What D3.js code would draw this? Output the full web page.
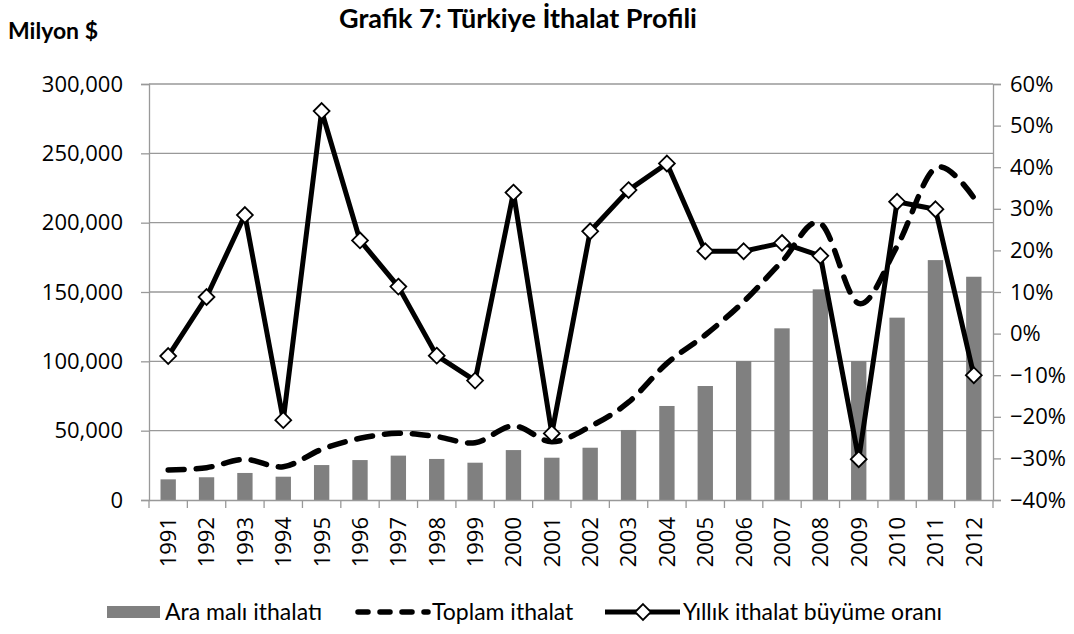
<!DOCTYPE html>
<html><head><meta charset="utf-8">
<script src="https://cdn.jsdelivr.net/npm/d3@7"></script>
<style>body{margin:0;background:#fff;}svg{display:block;}</style>
</head><body><svg id="c" width="1074" height="634"></svg>
<script>
const years = ["1991","1992","1993","1994","1995","1996","1997","1998","1999","2000","2001","2002","2003","2004","2005","2006","2007","2008","2009","2010","2011","2012"];
const araMali = [14900,16400,19500,16800,25200,28800,32000,29600,26900,36000,30500,37700,50500,67800,82200,100200,123800,151900,100200,131500,173000,161000];
const toplam = [21600,23300,29300,24000,36500,44500,48100,45700,41300,53400,42000,53000,70500,98500,119000,143000,172000,199500,141800,183000,239400,218000];
const buyume = [-0.054,0.088,0.285,-0.208,0.535,0.224,0.113,-0.053,-0.113,0.339,-0.240,0.246,0.345,0.409,0.198,0.198,0.218,0.187,-0.302,0.317,0.299,-0.100];
const leftTicks = [0,50000,100000,150000,200000,250000,300000];
const rightTicks = [-0.4,-0.3,-0.2,-0.1,0,0.1,0.2,0.3,0.4,0.5,0.6];

const svg = d3.select("#c");
const L=149,R=993,T=84,B=500;
const axisFont = "'Open Sans', 'Noto Sans', sans-serif";
const legFont = "Lato, 'Open Sans', sans-serif";
const grid = "#999999";

const x = d3.scaleBand().domain(years).range([L,R]).padding(0);
const y = d3.scaleLinear().domain([0,300000]).range([B,T]);
const y2 = d3.scaleLinear().domain([-0.4,0.6]).range([B,T]);

// gridlines
svg.append("g").selectAll("line").data(leftTicks.filter(d=>d>0)).join("line")
  .attr("x1",L).attr("x2",R).attr("y1",d=>y(d)).attr("y2",d=>y(d))
  .attr("stroke",grid).attr("stroke-width",1.3);

// bars
const bw = x.bandwidth()*0.4;
svg.append("g").selectAll("rect").data(araMali).join("rect")
  .attr("x",(d,i)=>x(years[i])+x.bandwidth()/2-bw/2)
  .attr("width",bw)
  .attr("y",d=>y(d)).attr("height",d=>B-y(d))
  .attr("fill","#808080");

// axes
function styleAxis(g){
  g.selectAll(".domain").attr("stroke",grid).attr("stroke-width",1.3);
  g.selectAll(".tick line").attr("stroke",grid).attr("stroke-width",1.3);
  g.selectAll("text").attr("fill","#000").attr("font-family",axisFont).style("font-family",axisFont).style("font-size","22px");
}
const fmt = d3.format(",");
svg.append("g").attr("transform",`translate(${L},0)`)
  .call(d3.axisLeft(y).tickValues(leftTicks).tickFormat(fmt).tickSizeOuter(0).tickSize(8).tickPadding(18))
  .call(styleAxis);
svg.append("g").attr("transform",`translate(${R},0)`)
  .call(d3.axisRight(y2).tickValues(rightTicks).tickFormat(d3.format(".0%")).tickSizeOuter(0).tickSize(8).tickPadding(9))
  .call(styleAxis);
const xa = svg.append("g").attr("transform",`translate(0,${B})`)
  .call(d3.axisBottom(x).tickSize(0).tickSizeOuter(0))
  .call(styleAxis);
xa.selectAll(".tick text").attr("transform","rotate(-90)").attr("text-anchor","end")
  .attr("x",-17).attr("y",0).attr("dy","0.36em");
// x ticks at band boundaries
const bounds = years.map(d=>x(d)).concat([R]);
svg.append("g").selectAll("line").data(bounds).join("line")
  .attr("x1",d=>d).attr("x2",d=>d).attr("y1",B).attr("y2",B+8)
  .attr("stroke",grid).attr("stroke-width",1.3);

const cx = d=>x(d)+x.bandwidth()/2;

// total imports dashed smoothed
svg.append("path").datum(toplam)
  .attr("d",d3.line().x((d,i)=>cx(years[i])).y(d=>y(d)).curve(d3.curveCatmullRom.alpha(0)))
  .attr("fill","none").attr("stroke","#000").attr("stroke-width",5.5)
  .attr("stroke-dasharray","16,12").attr("stroke-linecap","round");

// growth line
svg.append("path").datum(buyume)
  .attr("d",d3.line().x((d,i)=>cx(years[i])).y(d=>y2(d)))
  .attr("fill","none").attr("stroke","#000").attr("stroke-width",5).attr("stroke-linejoin","round");
const dia = d3.symbol().type(d3.symbolDiamond2).size(160);
svg.append("g").selectAll("path").data(buyume).join("path")
  .attr("transform",(d,i)=>`translate(${cx(years[i])},${y2(d)})`)
  .attr("d",dia).attr("fill","#fff").attr("stroke","#000").attr("stroke-width",1.8);

// titles
svg.append("text").attr("x",518).attr("y",28).attr("text-anchor","middle")
  .style("font-family",legFont).style("font-weight","bold").style("font-size","27px")
  .text("Grafik 7: Türkiye İthalat Profili");
svg.append("text").attr("x",8).attr("y",39)
  .style("font-family",legFont).style("font-weight","bold").style("font-size","23px")
  .text("Milyon $");

// legend
const lg = svg.append("g").style("font-family",legFont).style("font-size","23px");
lg.append("rect").attr("x",107).attr("y",606).attr("width",53).attr("height",12).attr("fill","#808080");
lg.append("text").attr("x",165).attr("y",620).text("Ara malı ithalatı");
lg.append("line").attr("x1",358).attr("x2",428).attr("y1",612).attr("y2",612)
  .attr("stroke","#000").attr("stroke-width",5.5).attr("stroke-dasharray","10,12").attr("stroke-linecap","round");
lg.append("text").attr("x",432).attr("y",620).text("Toplam ithalat");
lg.append("line").attr("x1",605).attr("x2",680).attr("y1",612).attr("y2",612)
  .attr("stroke","#000").attr("stroke-width",5);
lg.append("path").attr("transform","translate(643,612)").attr("d",dia)
  .attr("fill","#fff").attr("stroke","#000").attr("stroke-width",1.8);
lg.append("text").attr("x",683).attr("y",620).text("Yıllık ithalat büyüme oranı");
</script></body></html>
